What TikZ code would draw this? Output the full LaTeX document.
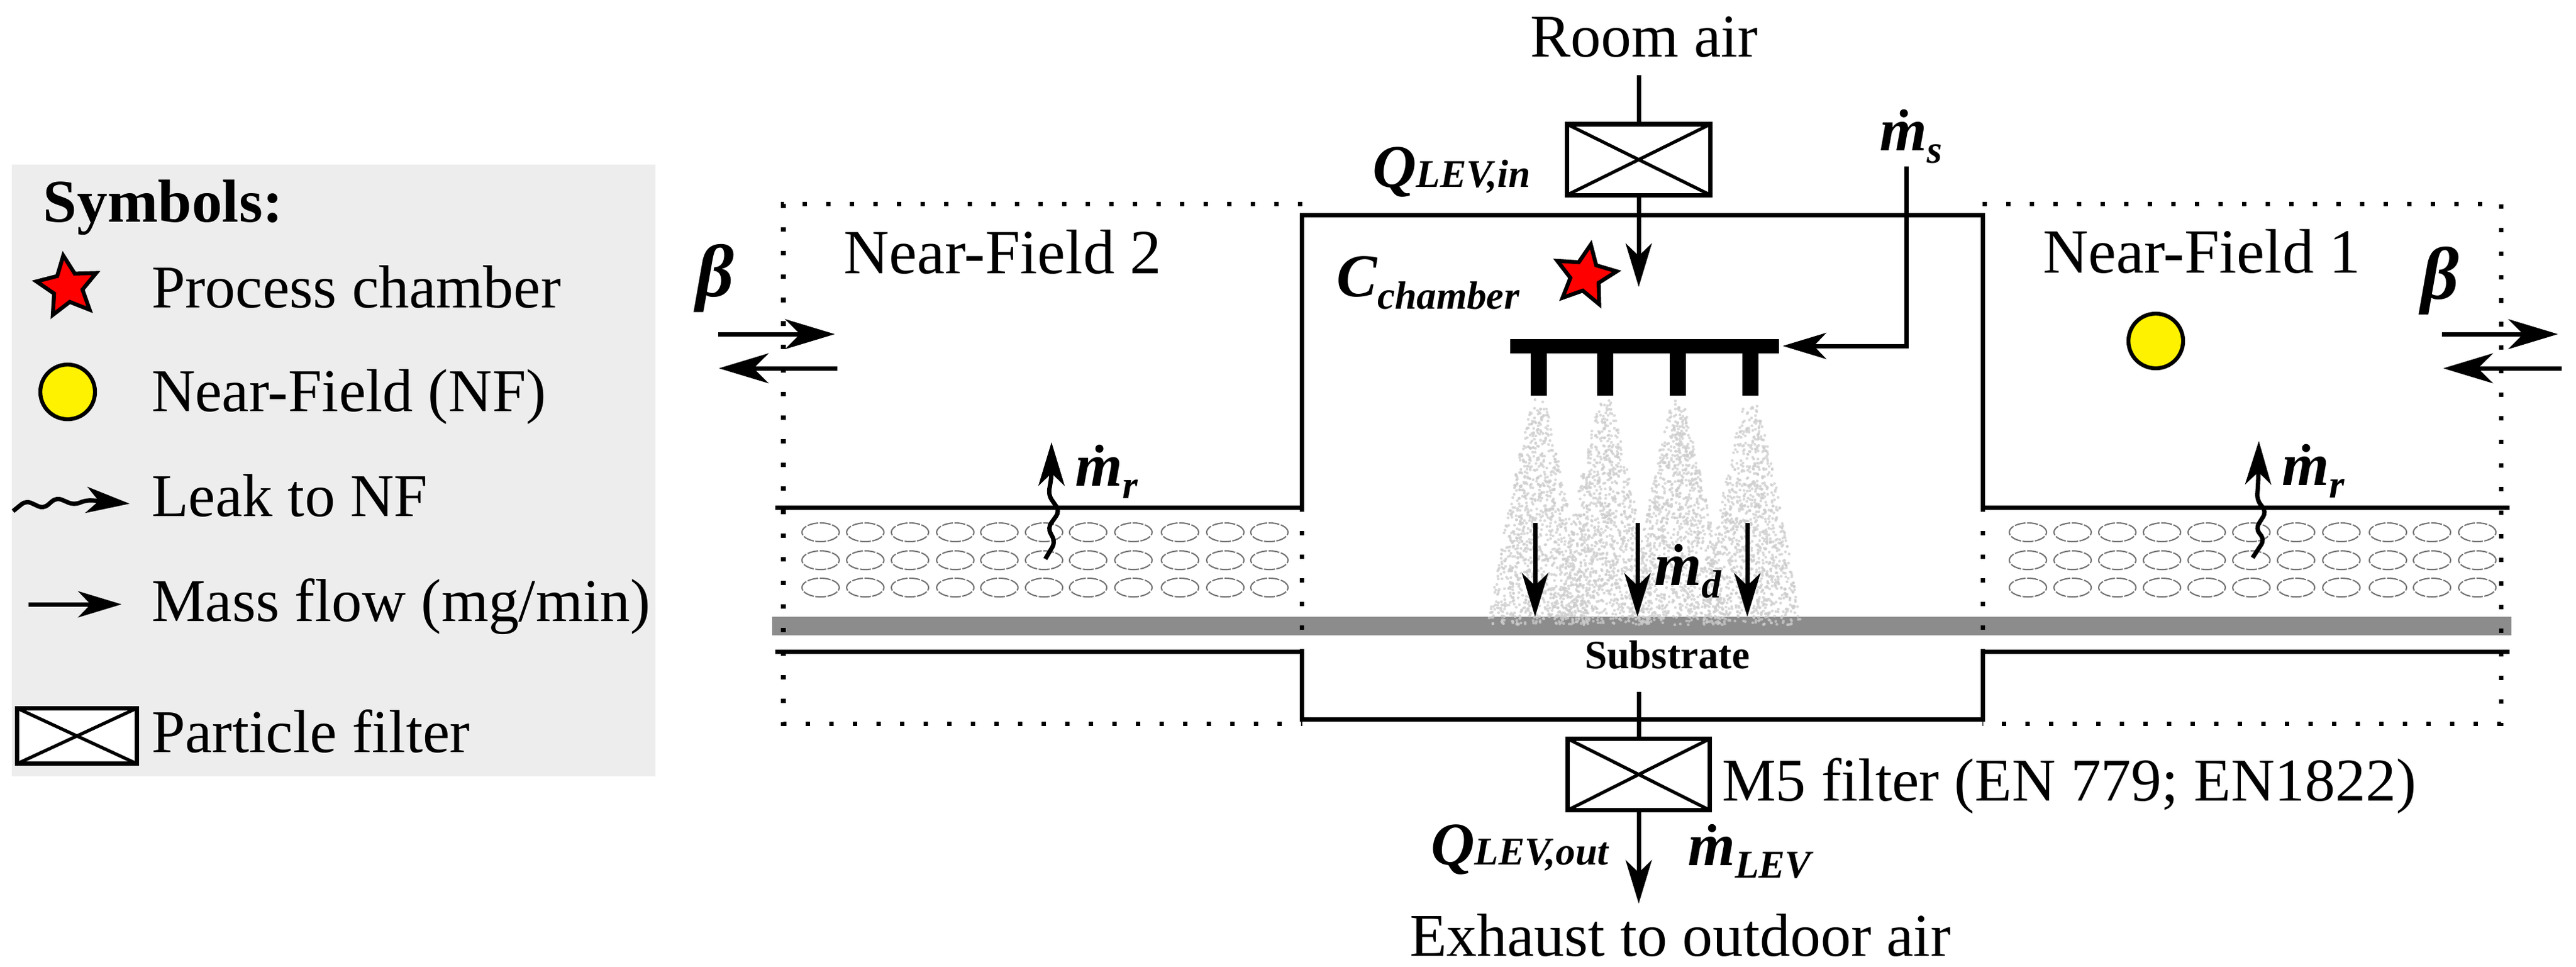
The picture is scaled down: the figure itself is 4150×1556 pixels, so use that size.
\documentclass[tikz,border=0pt]{standalone}
\usepackage{fontspec}
\setmainfont{Liberation Serif}
\usetikzlibrary{arrows.meta,shapes.geometric}

\newcommand{\boldit}[1]{\textbf{\textit{#1}}}
\newcommand{\lowsub}[1]{\raisebox{-5.7pt}{\fontsize{18}{18}\selectfont\boldit{#1}}}
\newcommand{\levsub}[1]{{\fontsize{18}{18}\selectfont\boldit{#1}}}
\newcommand{\massrate}[1]{\tikz[overlay, baseline=0pt]{\fill (0.4em, 0.61em) circle (0.067em);}\boldit{m}\lowsub{#1}}

\definecolor{legendgray}{HTML}{EDEDED}
\definecolor{bandgray}{HTML}{8C8C8C}

\tikzset{
    label/.style={anchor=base west, inner sep=0pt, outer sep=0pt},
    flow/.style={line width=2pt, -{Stealth[length=7mm, width=4.2mm, inset=2mm]}},
    betaflow/.style={line width=2pt, -{Stealth[length=8mm, width=4.8mm, inset=2.4mm]}},
    leak/.style={flow, rounded corners=2.5pt},
    wall/.style={line width=2pt, line join=miter},
    dots/.style={line width=2pt, dash pattern=on 2pt off 8.8pt},
    pore/.style={draw=black!55, line width=0.6pt, dash pattern=on 5pt off 0.7pt, ellipse, inner sep=0pt,
        minimum width=6mm, minimum height=3mm},
    nearstar/.style={star, star points=5, star point ratio=2.1, draw, fill=red, line width=1.8pt,
        inner sep=0pt, minimum size=1.02cm},
    nearcircle/.style={circle, draw, fill=yellow, line width=1.8pt, inner sep=0pt, minimum size=8.8mm},
    filterbox/.style={rectangle, draw, fill=white, line width=2pt, inner sep=0pt,
        path picture={\draw[line width=1.5pt]
            (path picture bounding box.north west) -- (path picture bounding box.south east)
            (path picture bounding box.north east) -- (path picture bounding box.south west);}},
    nozzlepart/.style={fill=black}
}

\begin{document}
\begin{tikzpicture}[x=0.01cm, y=-0.01cm, font=\fontsize{27.8}{30}\selectfont]
    \useasboundingbox (0, 0) rectangle (4150, 1556);

    % legend
    \fill[legendgray] (19, 265) rectangle (1056, 1250);
    \node[label] (symbols) at (70, 357) {\textbf{Symbols:}};
    \node[nearstar, rotate=8] (legstar) at (109, 462) {};
    \node[label] (legstartext) at (244, 495) {Process chamber};
    \node[nearcircle] (legcircle) at (109, 631) {};
    \node[label] (legcircletext) at (244, 662) {Near-Field (NF)};
    \coordinate (legleakA) at (21, 823);
    \coordinate (legleakB) at (209, 811);
    \draw[leak] (legleakA) -- (42, 806) -- (70, 819) -- (91, 801) -- (119, 813) -- (140, 805) -- (legleakB);
    \node[label] (legleaktext) at (244, 831) {Leak to NF};
    \coordinate (legflowA) at (46, 973);
    \coordinate (legflowB) at (196, 973);
    \draw[flow] (legflowA) -- (legflowB);
    \node[label] (legflowtext) at (244, 1000) {Mass flow (mg/min)};
    \node[filterbox, minimum width=1.92cm, minimum height=0.89cm] (legfilter) at (124, 1185) {};
    \node[label] (legfiltertext) at (244, 1211) {Particle filter};

    % substrate and spray
    \fill[bandgray] (1244, 993) rectangle (4046, 1023);
    \pgfmathsetseed{11}
    \foreach \cx in {2479, 2586, 2703, 2820} {
        \foreach \n in {1,...,1100} {
            \pgfmathsetmacro{\t}{rnd^0.6}
            \pgfmathsetmacro{\px}{\cx + (6 + 76*\t^0.8)*(2*rnd - 1)}
            \pgfmathsetmacro{\py}{642 + 364*\t}
            \fill[black!20, opacity=0.75] (\px, \py) circle (2.3);
        }
    }

    % zones
    \draw[dots] (2098, 328) -- (1262, 328) -- (1262, 1165) -- (2098, 1165);
    \draw[dots] (3194, 328) -- (4029, 328) -- (4029, 1165) -- (3194, 1165);
    \draw[dots] (2097, 817) -- (2097, 1049);
    \draw[dots] (3194, 817) -- (3194, 1049);

    \foreach \ry in {857, 902, 946} {
        \foreach \rx in {1322, 1394, 1466, 1539, 1610, 1682, 1753, 1826, 1901, 1974, 2045,
                         3267, 3339, 3411, 3483, 3555, 3627, 3699, 3772, 3847, 3918, 3991} {
            \node[pore] at (\rx, \ry) {};
        }
    }

    \draw[wall] (1249, 817) -- (2097, 817) -- (2097, 346) -- (3194, 346) -- (3194, 817) -- (4043, 817);
    \draw[wall] (1249, 1049) -- (2097, 1049) -- (2097, 1158) -- (3194, 1158) -- (3194, 1049) -- (4043, 1049);

    \node[label, font=\fontsize{28.8}{30}\selectfont] (nftwo) at (1359, 440) {Near-Field 2};
    \node[label, font=\fontsize{28.8}{30}\selectfont] (nfone) at (3291, 439) {Near-Field 1};
    \node[nearcircle] (nfcircle) at (3473, 549) {};
    \node[nearstar, rotate=-10] (chamberstar) at (2554, 444) {};

    % exchange with the room
    \node[label, font=\fontsize{34}{36}\selectfont] (betatwo) at (1121, 477) {\boldit{β}};
    \coordinate (bltA) at (1157, 538);
    \coordinate (bltB) at (1345, 538);
    \coordinate (bllA) at (1349, 593);
    \coordinate (bllB) at (1158, 593);
    \draw[betaflow] (bltA) -- (bltB);
    \draw[betaflow] (bllA) -- (bllB);
    \node[label, font=\fontsize{34}{36}\selectfont] (betaone) at (3900, 481) {\boldit{β}};
    \coordinate (brtA) at (3934, 538);
    \coordinate (brtB) at (4121, 538);
    \coordinate (brlA) at (4127, 593);
    \coordinate (brlB) at (3936, 593);
    \draw[betaflow] (brtA) -- (brtB);
    \draw[betaflow] (brlA) -- (brlB);

    % inlet
    \node[label, anchor=base] (roomair) at (2649, 91) {Room air};
    \coordinate (roomtop) at (2640, 121);
    \node[filterbox, minimum width=2.31cm, minimum height=1.14cm] (filterin) at (2640, 257) {};
    \coordinate (intip) at (2640, 462);
    \draw[line width=2pt] (roomtop) -- (filterin);
    \draw[flow] (filterin) -- (intip);
    \node[label] (qin) at (2211, 301) {\boldit{Q}\levsub{LEV,in}};
    \node[label] (cchamber) at (2153, 477) {\boldit{C}\lowsub{chamber}};

    % nozzle
    \fill[nozzlepart] (2433, 546) rectangle (2866, 569);
    \foreach \nx in {2479, 2586, 2703, 2820} {
        \fill[nozzlepart] (\nx - 13, 569) rectangle (\nx + 13, 637);
    }
    \node[label] (ms) at (3028, 242) {\massrate{s}};
    \coordinate (mstop) at (3071, 268);
    \coordinate (mscorner) at (3071, 557);
    \coordinate (mstip) at (2872, 557);
    \draw[flow] (mstop) -- (mscorner) -- (mstip);

    % deposition
    \foreach \ax/\aname in {2473/da, 2638/db, 2815/dc} {
        \coordinate (\aname top) at (\ax, 842);
        \coordinate (\aname tip) at (\ax, 993);
        \draw[flow] (\aname top) -- (\aname tip);
    }
    \node[label] (md) at (2665, 942) {\massrate{d}};
    \node[label, font=\fontsize{18.4}{20}\selectfont\bfseries] (substrate) at (2553, 1076) {Substrate};

    % leaks
    \coordinate (leaktwoA) at (1684, 900);
    \coordinate (leaktwoB) at (1694, 712);
    \draw[leak] (leaktwoA) -- (1700, 873) -- (1688, 850) -- (1707, 823) -- (1689, 797) -- (1694, 767) -- (leaktwoB);
    \node[label] (mrtwo) at (1732, 782) {\massrate{r}};
    \coordinate (leakoneA) at (3629, 898);
    \coordinate (leakoneB) at (3639, 710);
    \draw[leak] (leakoneA) -- (3648, 869) -- (3634, 851) -- (3651, 824) -- (3636, 805) -- (3638, 776) -- (leakoneB);
    \node[label] (mrone) at (3676, 781) {\massrate{r}};

    % outlet
    \coordinate (exhtop) at (2640, 1114);
    \node[filterbox, minimum width=2.29cm, minimum height=1.15cm] (filterout) at (2640, 1247) {};
    \coordinate (exhtip) at (2640, 1455);
    \draw[line width=2pt] (exhtop) -- (filterout);
    \draw[flow] (filterout) -- (exhtip);
    \node[label] (mfive) at (2774, 1289) {M5 filter (EN 779; EN1822)};
    \node[label] (qout) at (2305, 1392) {\boldit{Q}\levsub{LEV,out}};
    \node[label] (mlev) at (2719, 1393) {\massrate{LEV}};
    \node[label] (exhaust) at (2271, 1539) {Exhaust to outdoor air};
\end{tikzpicture}
\end{document}
